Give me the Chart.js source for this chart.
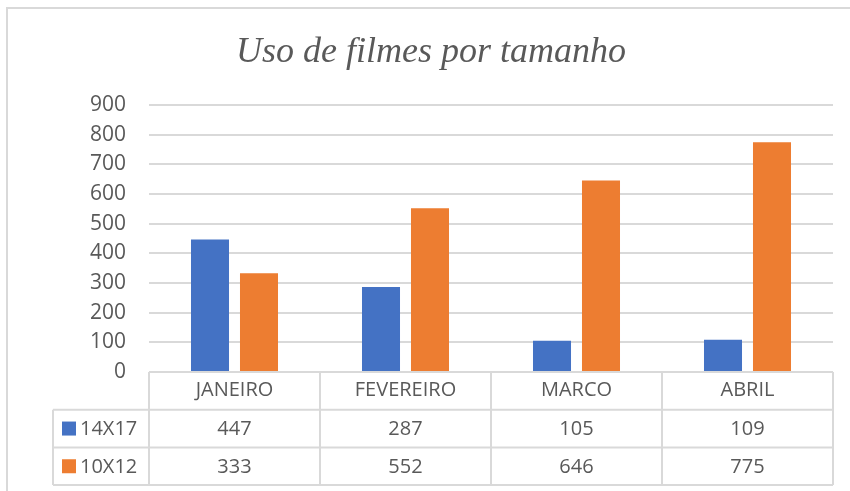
<!DOCTYPE html>
<html>
<head>
<meta charset="utf-8">
<script src="https://cdn.jsdelivr.net/npm/chart.js@4.4.0/dist/chart.umd.min.js"></script>
<style>
  html, body { margin: 0; padding: 0; background: #fff; }
  #wrap { width: 850px; height: 491px; }
</style>
</head>
<body>
<div id="wrap"><canvas id="chart"></canvas></div>
<script>
const months = ["JANEIRO", "FEVEREIRO", "MARCO", "ABRIL"];
const seriesNames = ["14X17", "10X12"];
const values14x17 = [447, 287, 105, 109];
const values10x12 = [333, 552, 646, 775];
const seriesColors = ["#4472C4", "#ED7D31"];

const textColor = "#595959";
const lineColor = "#d9d9d9";
const tableFont = '20px "Open Sans"';

// Excel-like data table under the plot + outer border
const dataTable = {
  id: "dataTable",
  beforeDraw(chart) {
    const ctx = chart.ctx;
    ctx.save();
    ctx.strokeStyle = lineColor;
    ctx.lineWidth = 2;
    ctx.beginPath();
    ctx.moveTo(7, 491);
    ctx.lineTo(7, 8);
    ctx.lineTo(850, 8);
    ctx.stroke();
    ctx.restore();
  },
  afterDraw(chart) {
    const ctx = chart.ctx;
    const x = chart.scales.x;
    const area = chart.chartArea;
    const top = area.bottom;
    const rowH = 37.7;
    const rows = [top + rowH, top + rowH * 2, top + rowH * 3];
    const leftCol = 53;
    const half = (x.getPixelForValue(1) - x.getPixelForValue(0)) / 2;

    ctx.save();
    ctx.strokeStyle = lineColor;
    ctx.lineWidth = 2;
    ctx.beginPath();
    ctx.moveTo(area.left, top);
    ctx.lineTo(area.right, top);
    rows.forEach((y) => {
      ctx.moveTo(leftCol, y);
      ctx.lineTo(area.right, y);
    });
    months.forEach((m, i) => {
      const bx = x.getPixelForValue(i) - half;
      ctx.moveTo(bx, top);
      ctx.lineTo(bx, rows[2]);
    });
    ctx.moveTo(area.right, top);
    ctx.lineTo(area.right, rows[2]);
    ctx.moveTo(leftCol, rows[0]);
    ctx.lineTo(leftCol, rows[2]);
    ctx.stroke();

    ctx.font = tableFont;
    ctx.textBaseline = "middle";
    chart.data.datasets.forEach((ds, r) => {
      const cy = rows[r] + rowH / 2;
      ctx.fillStyle = ds.backgroundColor;
      ctx.fillRect(62, cy - 7, 14, 14);
      ctx.fillStyle = textColor;
      ctx.textAlign = "left";
      ctx.fillText(ds.label, 80, cy + 1);
      ctx.textAlign = "center";
      ds.data.forEach((v, i) => {
        ctx.fillText(String(v), x.getPixelForValue(i), cy + 1);
      });
    });
    ctx.restore();
  }
};

new Chart(document.getElementById("chart"), {
  type: "bar",
  data: {
    labels: months,
    datasets: [
      { label: seriesNames[0], data: values14x17, backgroundColor: seriesColors[0] },
      { label: seriesNames[1], data: values10x12, backgroundColor: seriesColors[1] }
    ]
  },
  options: {
    responsive: true,
    maintainAspectRatio: false,
    animation: false,
    datasets: { bar: { categoryPercentage: 0.573, barPercentage: 0.776 } },
    layout: { padding: { left: 29, right: 17, top: 0, bottom: 0 } },
    plugins: {
      legend: { display: false },
      tooltip: { enabled: false },
      title: {
        display: true,
        text: "Uso de filmes por tamanho",
        color: textColor,
        font: { family: '"Liberation Serif"', size: 36, style: "italic", weight: "normal", lineHeight: 1.2 },
        padding: { top: 31, bottom: 31 }
      }
    },
    scales: {
      x: {
        grid: { display: false, drawTicks: false },
        border: { display: false },
        ticks: { color: textColor, font: { family: '"Open Sans"', size: 20 }, padding: 6 },
        afterFit(scale) { scale.height = 119; }
      },
      y: {
        min: 0,
        max: 900,
        grid: { color: lineColor, lineWidth: 2, drawTicks: false },
        border: { display: false },
        ticks: { stepSize: 100, color: textColor, font: { family: '"Open Sans"', size: 21 }, padding: 23 },
        afterFit(scale) { scale.width = 120; }
      }
    }
  },
  plugins: [dataTable]
});
</script>
</body>
</html>
